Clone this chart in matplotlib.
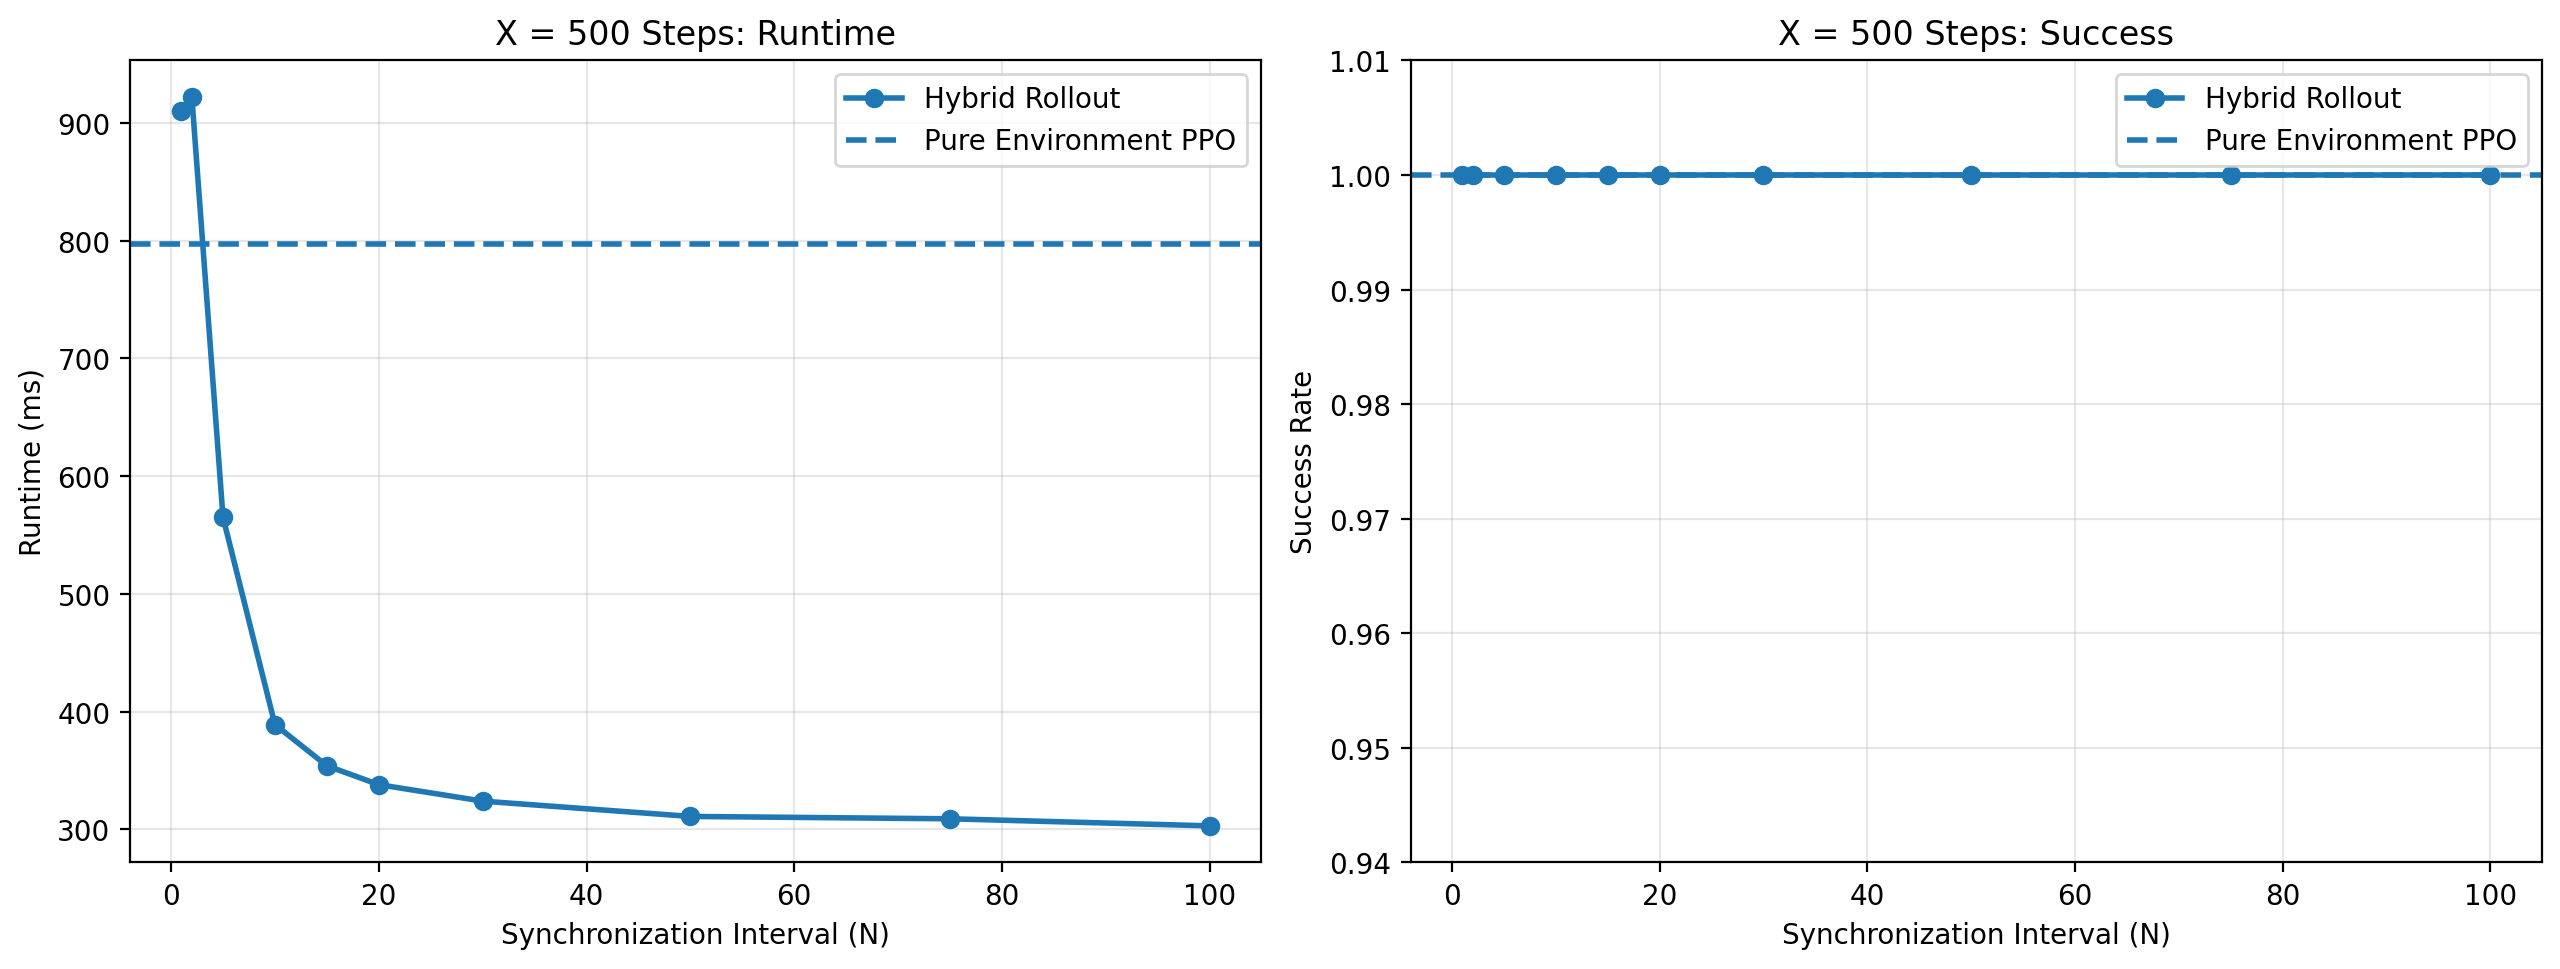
import matplotlib
matplotlib.use('Agg')
import matplotlib.pyplot as plt

sync_intervals = [1, 2, 5, 10, 15, 20, 30, 50, 75, 100]
hybrid_runtime = [910, 922, 565, 389, 354, 338, 324, 311, 309, 303]
pure_runtime = 797
hybrid_success = [1.0, 1.0, 1.0, 1.0, 1.0, 1.0, 1.0, 1.0, 1.0, 1.0]
pure_success = 1.0

fig, (ax1, ax2) = plt.subplots(1, 2, figsize=(12.8, 4.85))

ax1.plot(sync_intervals, hybrid_runtime, 'o-', linewidth=2, label='Hybrid Rollout')
ax1.axhline(pure_runtime, linestyle='--', linewidth=2, label='Pure Environment PPO')
ax1.set_title('X = 500 Steps: Runtime')
ax1.set_xlabel('Synchronization Interval (N)')
ax1.set_ylabel('Runtime (ms)')
ax1.grid(True, alpha=0.3)
ax1.legend()

ax2.plot(sync_intervals, hybrid_success, 'o-', linewidth=2, label='Hybrid Rollout')
ax2.axhline(pure_success, linestyle='--', linewidth=2, label='Pure Environment PPO')
ax2.set_title('X = 500 Steps: Success')
ax2.set_xlabel('Synchronization Interval (N)')
ax2.set_ylabel('Success Rate')
ax2.set_ylim(0.94, 1.01)
ax2.grid(True, alpha=0.3)
ax2.legend()

fig.subplots_adjust(left=0.0508, right=0.9929, top=0.9366, bottom=0.11, wspace=0.1324)
plt.savefig('out.png', dpi=200)
